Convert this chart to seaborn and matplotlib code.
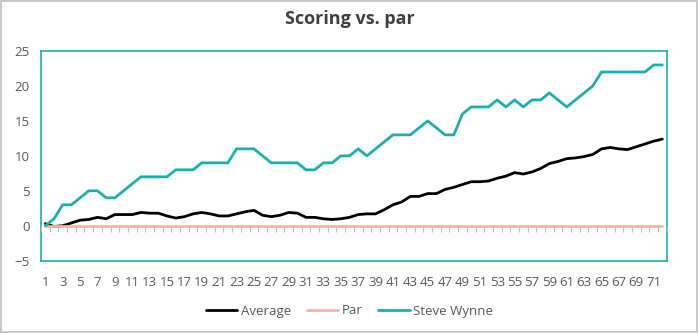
import numpy as np
import pandas as pd
import seaborn as sns
import matplotlib
matplotlib.use("Agg")
import matplotlib.pyplot as plt
from matplotlib.patches import Rectangle

holes = list(range(1, 73))
average = [0.3, -0.1, 0.0, 0.4, 0.8, 0.9, 1.2, 1.0, 1.6, 1.6,
           1.6, 1.9, 1.8, 1.8, 1.4, 1.1, 1.3, 1.7, 1.9, 1.7,
           1.4, 1.4, 1.7, 2.0, 2.2, 1.5, 1.3, 1.5, 1.9, 1.8,
           1.2, 1.2, 1.0, 0.9, 1.0, 1.2, 1.6, 1.7, 1.7, 2.3,
           3.0, 3.4, 4.2, 4.2, 4.6, 4.6, 5.2, 5.5, 5.9, 6.3,
           6.3, 6.4, 6.8, 7.1, 7.6, 7.4, 7.7, 8.2, 8.9, 9.2,
           9.6, 9.7, 9.9, 10.2, 11.0, 11.2, 11.0, 10.9, 11.3, 11.7,
           12.1, 12.4]
par = [0] * 72
steve_wynne = [0, 1, 3, 3, 4, 5, 5, 4, 4, 5,
               6, 7, 7, 7, 7, 8, 8, 8, 9, 9,
               9, 9, 11, 11, 11, 10, 9, 9, 9, 9,
               8, 8, 9, 9, 10, 10, 11, 10, 11, 12,
               13, 13, 13, 14, 15, 14, 13, 13, 16, 17,
               17, 17, 18, 17, 18, 17, 18, 18, 19, 18,
               17, 18, 19, 20, 22, 22, 22, 22, 22, 22,
               23, 23]
series_names = ["Average", "Par", "Steve Wynne"]
colors = ["#000000", "#F4B5A4", "#1BB0AC"]
tick_labels = [str(h) for h in holes]

df = pd.DataFrame({
    "hole": holes * 3,
    "value": average + par + steve_wynne,
    "series": [series_names[0]] * 72 + [series_names[1]] * 72 + [series_names[2]] * 72,
})

sns.set_style("white")
plt.rcParams["font.family"] = ["Open Sans", "DejaVu Sans"]

fig = plt.figure(figsize=(6.99, 3.33), dpi=100)
ax = fig.add_axes([41 / 699, 1 - 260.7 / 333, (666.7 - 41) / 699, (260.7 - 51) / 333])

sns.lineplot(data=df, x="hole", y="value", hue="series", hue_order=series_names,
             palette=colors, linewidth=2, ax=ax, legend=True, estimator=None, sort=False)

ax.set_xlim(0.5, 72.5)
ax.set_ylim(-5, 25)
ax.set_yticks(range(-5, 26, 5))
ax.set_xticks(holes[::2])
ax.set_xticklabels(tick_labels[::2])
ax.tick_params(axis="both", length=0, labelsize=9.5, labelcolor="#595959")
ax.tick_params(axis="x", pad=11)
ax.tick_params(axis="y", pad=8)
ax.set_xlabel("")
ax.set_ylabel("")
for s in ax.spines.values():
    s.set_color("#1BB0AC")
    s.set_linewidth(1.2)

# category boundary ticks along the zero line
ax2 = ax.twiny()
ax2.set_xlim(0.5, 72.5)
ax2.spines["top"].set_visible(False)
ax2.spines["left"].set_visible(False)
ax2.spines["right"].set_visible(False)
ax2.spines["bottom"].set_position(("data", 0))
ax2.spines["bottom"].set_visible(False)
ax2.xaxis.set_ticks_position("bottom")
ax2.set_xticks(np.arange(0.5, 73, 1.0))
ax2.set_xticklabels([])
ax2.tick_params(axis="x", direction="out", length=4, width=0.8, color="#BFBFBF")

ax.legend_.remove()
handles, labels = ax.get_legend_handles_labels()
fig.legend(handles, labels, loc="center", bbox_to_anchor=(0.5, 1 - 311 / 333), ncol=3,
           frameon=False, fontsize=9.5, handlelength=2.4, handletextpad=0.25,
           columnspacing=1.2, labelcolor="#595959")

fig.text(0.5, 1 - 19 / 333, "Scoring vs. par", ha="center", va="center",
         fontsize=13, fontweight="bold", color="#404040")

fig.patches.append(Rectangle((0.001, 0.004), 0.996, 0.994, transform=fig.transFigure,
                             fill=False, edgecolor="#BFBFBF", linewidth=1.2))

fig.savefig("out.png", dpi=100)
